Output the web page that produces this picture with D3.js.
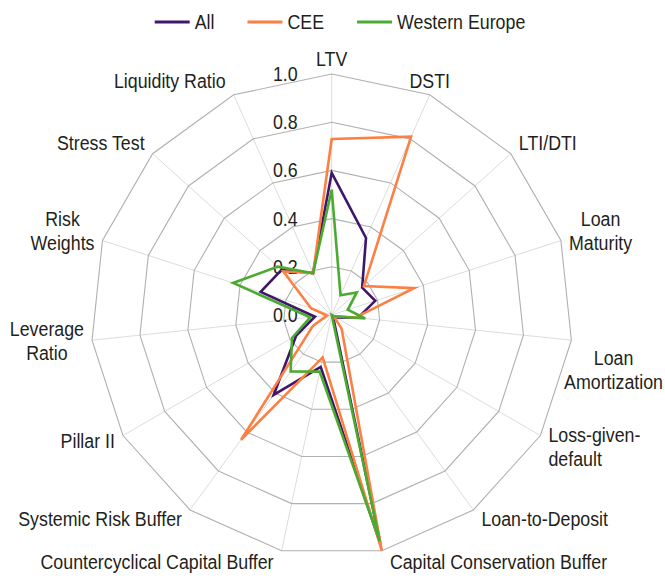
<!DOCTYPE html>
<html>
<head>
<meta charset="utf-8">
<script src="https://cdn.jsdelivr.net/npm/d3@7"></script>
<style>
  body { margin: 0; background: #fff; }
  svg text { font-family: "Liberation Sans", Arial, sans-serif; font-size: 20px; fill: #231f20; }
  .ring { fill: none; stroke: #b0b0b0; stroke-width: 1.1; }
  .spoke { stroke: #dcdcdc; stroke-width: 1; }
  .series { fill: none; stroke-width: 2.6; stroke-linejoin: miter; }
</style>
</head>
<body>
<svg id="chart" width="665" height="578"></svg>
<script>
// Measures along the radar, clockwise from the top
var categories = ["LTV", "DSTI", "LTI/DTI", "Loan\nMaturity", "Loan\nAmortization",
  "Loss-given-\ndefault", "Loan-to-Deposit", "Capital Conservation Buffer",
  "Countercyclical Capital Buffer", "Systemic Risk Buffer", "Pillar II",
  "Leverage\nRatio", "Risk\nWeights", "Stress Test", "Liquidity Ratio"];

var seriesNames = ["All", "CEE", "Western Europe"];

var allValues = [0.59, 0.35, 0.17, 0.19, 0.11, 0.02, 0.01, 0.97, 0.22, 0.41, 0.17, 0.07, 0.31, 0.28, 0.19];
var ceeValues = [0.73, 0.81, 0.18, 0.36, 0.10, 0.01, 0.07, 1.00, 0.18, 0.64, 0.09, 0.02, 0.09, 0.27, 0.19];
var weValues  = [0.52, 0.09, 0.14, 0.07, 0.14, 0.01, 0.00, 0.96, 0.24, 0.29, 0.19, 0.09, 0.43, 0.30, 0.19];

var tickValues = [0, 0.2, 0.4, 0.6, 0.8, 1.0];

var seriesColors = ["#3e176a", "#fc8044", "#4caa32"];

var width = 665,
    height = 578,
    cx = 331.7,
    cy = 315,
    n = categories.length,
    step = 2 * Math.PI / n,
    sx = 0.89,      // narrow the face, the original uses a condensed font
    lineH = 24,
    pad = 8;

var svg = d3.select("#chart");

var r = d3.scaleLinear().domain([0, 1]).range([0, 241]);
var color = d3.scaleOrdinal().domain(seriesNames).range(seriesColors);

function squeeze(x, y) {
  return "translate(" + x + "," + y + ") scale(" + sx + ",1)";
}

var chart = svg.append("g")
    .attr("transform", "translate(" + cx + "," + cy + ")");

var radial = d3.lineRadial()
    .angle(function(d, i) { return i * step; })
    .radius(function(d) { return r(d); })
    .curve(d3.curveLinearClosed);

// Spokes
chart.selectAll(".spoke")
    .data(categories)
  .enter().append("line")
    .attr("class", "spoke")
    .attr("x1", 0).attr("y1", 0)
    .attr("x2", function(d, i) { return r(1) * Math.sin(i * step); })
    .attr("y2", function(d, i) { return -r(1) * Math.cos(i * step); });

// Rings (one polygon per tick above zero)
chart.selectAll(".ring")
    .data(tickValues.filter(function(t) { return t > 0; }))
  .enter().append("path")
    .attr("class", "ring")
    .attr("d", function(t) { return radial(categories.map(function() { return t; })); });

// Tick labels up the LTV axis
var ticks = chart.selectAll(".tick")
    .data(tickValues)
  .enter().append("text")
    .attr("class", "tick")
    .attr("transform", function(t) { return squeeze(-34, -r(t)); })
    .attr("dy", "0.35em")
    .attr("text-anchor", "end")
    .text(d3.format(".1f"));

// box of the top tick label, labels must keep clear of it
var topTick = ticks.filter(function(t) { return t === 1; }).node().getBoundingClientRect();

// Series
var series = [allValues, ceeValues, weValues];

chart.selectAll(".series")
    .data(series)
  .enter().append("path")
    .attr("class", "series")
    .style("stroke", function(d, i) { return color(seriesNames[i]); })
    .attr("d", radial);

// Category labels, placed outside the outer ring vertex
svg.append("g").selectAll(".cat")
    .data(categories)
  .enter().append("text")
    .attr("class", "cat")
    .each(function(d, i) {
      var t = d3.select(this),
          lines = d.split("\n"),
          hyphen = d.indexOf("-\n") >= 0,
          w = 0;
      t.attr("text-anchor", hyphen ? "start" : "middle");
      lines.forEach(function(l, k) {
        var sp = t.append("tspan").attr("x", 0).attr("dy", k ? lineH : 0).text(l);
        w = Math.max(w, sp.node().getComputedTextLength() * sx);
      });
      var h = (lines.length - 1) * lineH + 19,
          a = i * step, s = Math.sin(a), c = Math.cos(a),
          vx = cx + r(1) * s,
          vy = cy - r(1) * c,
          midY = vy - c * (h / 2 + 4),
          left;
      if (c > 0.85) {
        // top labels sit centred over the spoke unless they hit the tick label
        left = vx - w / 2;
        var top = midY - h / 2;
        if (left < topTick.right && left + w > topTick.left &&
            top < topTick.bottom && top + h > topTick.top) {
          left = s > 0 ? vx + pad : vx - pad - w;
        }
      }
      else if (Math.abs(s) < 0.05) left = vx - w / 2;
      else if (s > 0) left = vx + pad;
      else left = vx - pad - w;
      // no room on the side: slide in and drop below the vertex
      if (left + w > width - 2) { left = width - 2 - w; midY = vy + 10 + h / 2; }
      if (left < 2) { left = 2; midY = vy + 10 + h / 2; }
      t.attr("transform", squeeze(hyphen ? left : left + w / 2, midY - h / 2 + 15));
    });

// Legend
var legend = svg.append("g");
var items = legend.selectAll("g")
    .data(seriesNames)
  .enter().append("g");

items.append("line")
    .attr("x1", 0).attr("x2", 35)
    .style("stroke", function(d) { return color(d); })
    .style("stroke-width", 3);

items.append("text")
    .attr("transform", squeeze(40, 0))
    .attr("dy", "0.35em")
    .text(function(d) { return d; });

var xPos = 0;
items.each(function() {
  var w = this.getBBox().width;
  d3.select(this).attr("transform", "translate(" + xPos + ",0)");
  xPos += w + 33;
});
legend.attr("transform", "translate(" + (340 - (xPos - 33) / 2) + ",22)");
</script>
</body>
</html>
